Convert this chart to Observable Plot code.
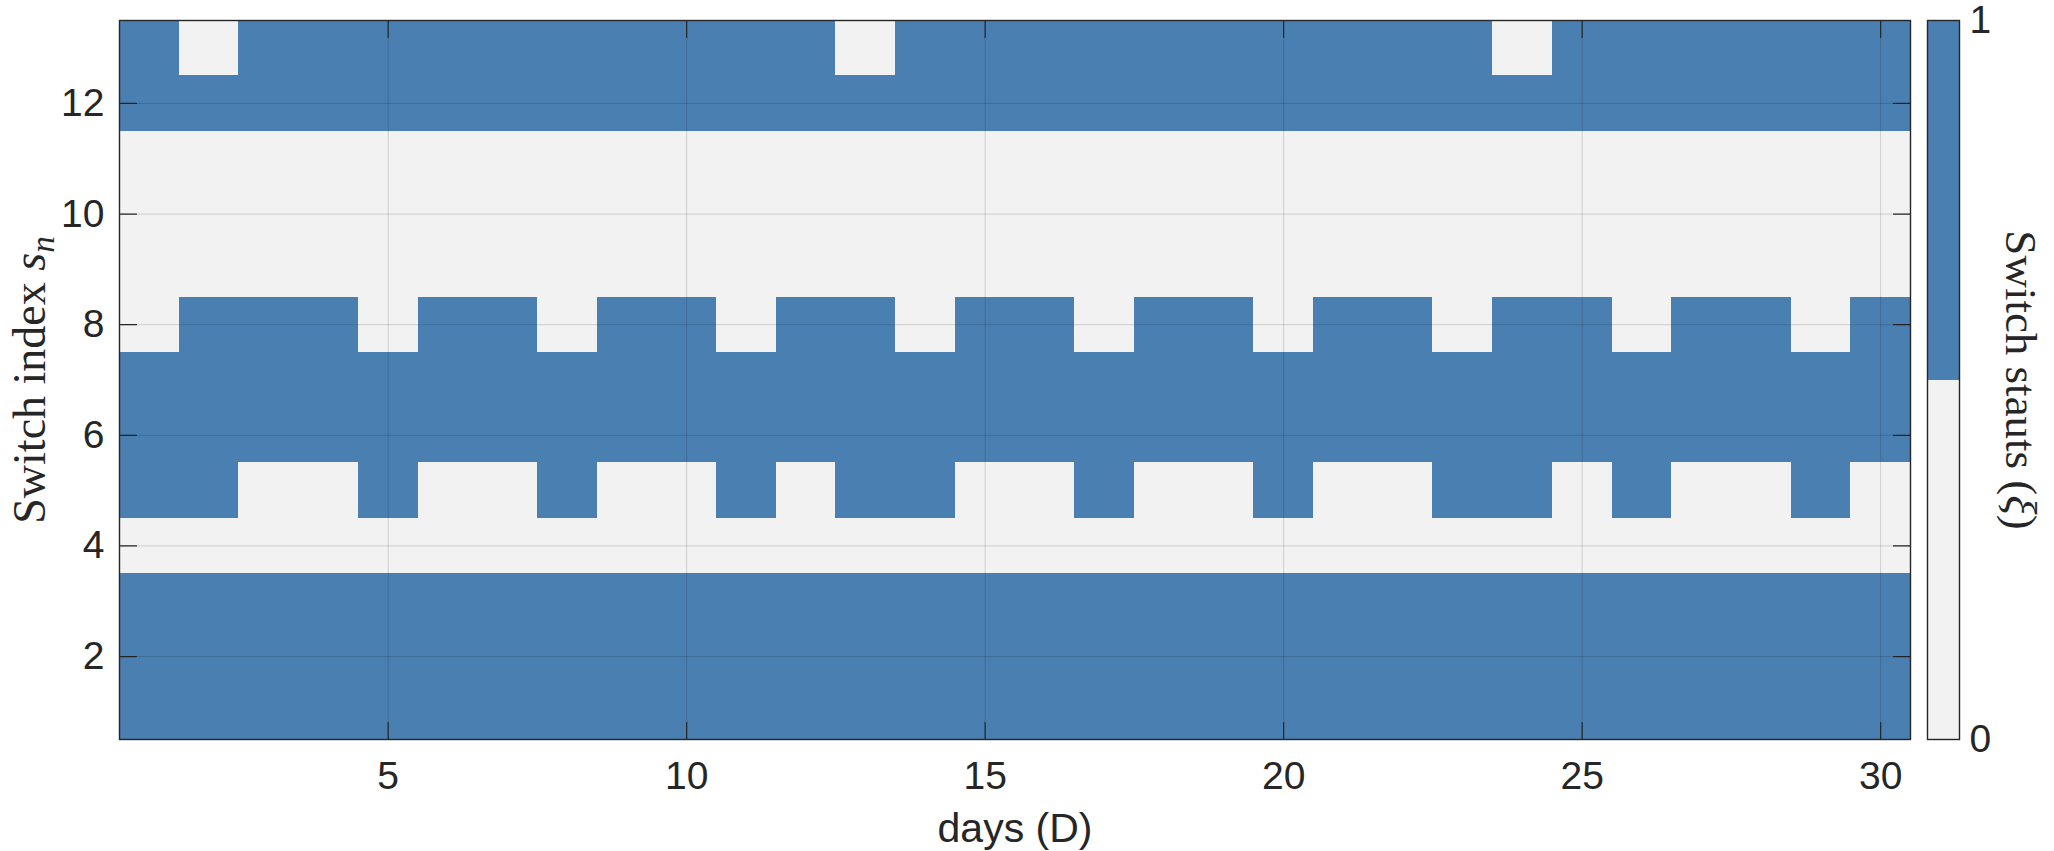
<!DOCTYPE html>
<html>
<head>
<meta charset="utf-8">
<script src="https://cdn.jsdelivr.net/npm/d3@7"></script>
<script src="https://cdn.jsdelivr.net/npm/@observablehq/plot@0.6"></script>
<style>
  html, body { margin: 0; padding: 0; background: #fff; }
  #wrap { position: relative; width: 2054px; height: 851px; }
  #cbar { position: absolute; left: 1900px; top: 0; }
</style>
</head>
<body>
<div id="wrap"><div id="main"></div><div id="cbar"></div></div>
<script>
// ---- data ----
const days = [1,2,3,4,5,6,7,8,9,10,11,12,13,14,15,16,17,18,19,20,21,22,23,24,25,26,27,28,29,30];
const switches = [1,2,3,4,5,6,7,8,9,10,11,12,13];
// status per switch (index 1..13), one value per day
const s1  = [1,1,1,1,1,1,1,1,1,1,1,1,1,1,1,1,1,1,1,1,1,1,1,1,1,1,1,1,1,1];
const s2  = [1,1,1,1,1,1,1,1,1,1,1,1,1,1,1,1,1,1,1,1,1,1,1,1,1,1,1,1,1,1];
const s3  = [1,1,1,1,1,1,1,1,1,1,1,1,1,1,1,1,1,1,1,1,1,1,1,1,1,1,1,1,1,1];
const s4  = [0,0,0,0,0,0,0,0,0,0,0,0,0,0,0,0,0,0,0,0,0,0,0,0,0,0,0,0,0,0];
const s5  = [1,1,0,0,1,0,0,1,0,0,1,0,1,1,0,0,1,0,0,1,0,0,1,1,0,1,0,0,1,0];
const s6  = [1,1,1,1,1,1,1,1,1,1,1,1,1,1,1,1,1,1,1,1,1,1,1,1,1,1,1,1,1,1];
const s7  = [1,1,1,1,1,1,1,1,1,1,1,1,1,1,1,1,1,1,1,1,1,1,1,1,1,1,1,1,1,1];
const s8  = [0,1,1,1,0,1,1,0,1,1,0,1,1,0,1,1,0,1,1,0,1,1,0,1,1,0,1,1,0,1];
const s9  = [0,0,0,0,0,0,0,0,0,0,0,0,0,0,0,0,0,0,0,0,0,0,0,0,0,0,0,0,0,0];
const s10 = [0,0,0,0,0,0,0,0,0,0,0,0,0,0,0,0,0,0,0,0,0,0,0,0,0,0,0,0,0,0];
const s11 = [0,0,0,0,0,0,0,0,0,0,0,0,0,0,0,0,0,0,0,0,0,0,0,0,0,0,0,0,0,0];
const s12 = [1,1,1,1,1,1,1,1,1,1,1,1,1,1,1,1,1,1,1,1,1,1,1,1,1,1,1,1,1,1];
const s13 = [1,0,1,1,1,1,1,1,1,1,1,1,0,1,1,1,1,1,1,1,1,1,1,0,1,1,1,1,1,1];
const xTicks = [5,10,15,20,25,30];
const yTicks = [2,4,6,8,10,12];
const cbTicks = [0,1];
const cbLevels = [0,1];

const rowsByIndex = [s1,s2,s3,s4,s5,s6,s7,s8,s9,s10,s11,s12,s13];
const cells = [];
switches.forEach((sw, i) => days.forEach((d, j) => cells.push({day: d, sw: sw, status: rowsByIndex[i][j]})));

const BLUE = "#4a7fb1";
const WHITE = "#f2f2f2";
const INK = "#262626";
const SANS = "'Liberation Sans', Arial, Helvetica, sans-serif";
const SERIF = "'Liberation Serif', 'Times New Roman', serif";
const TICK = 17;

const line = {draw(ctx, l) { ctx.moveTo(0, 0); ctx.lineTo(0, -l); }};

const main = Plot.plot({
  width: 1910 + 144, height: 851,
  marginLeft: 119, marginRight: 144, marginTop: 20, marginBottom: 112,
  style: {fontFamily: SANS, color: INK, background: "transparent"},
  x: {domain: [0.5, 30.5], label: null},
  y: {domain: [0.5, 13.5], label: null},
  color: {type: "ordinal", domain: cbLevels, range: [WHITE, BLUE]},
  marks: [
    Plot.rect(cells, {x1: d => d.day - 0.5, x2: d => d.day + 0.5, y1: d => d.sw - 0.5, y2: d => d.sw + 0.5, fill: "status", shapeRendering: "crispEdges"}),
    Plot.gridX(xTicks, {stroke: "#000", strokeOpacity: 0.15, strokeWidth: 1}),
    Plot.gridY(yTicks, {stroke: "#000", strokeOpacity: 0.15, strokeWidth: 1}),
    Plot.vector(xTicks, {x: d => d, frameAnchor: "bottom", rotate: 0, length: TICK, anchor: "start", shape: line, stroke: INK, strokeWidth: 1.2}),
    Plot.vector(xTicks, {x: d => d, frameAnchor: "top", rotate: 180, length: TICK, anchor: "start", shape: line, stroke: INK, strokeWidth: 1.2}),
    Plot.vector(yTicks, {y: d => d, frameAnchor: "left", rotate: 90, length: TICK, anchor: "start", shape: line, stroke: INK, strokeWidth: 1.2}),
    Plot.vector(yTicks, {y: d => d, frameAnchor: "right", rotate: 270, length: TICK, anchor: "start", shape: line, stroke: INK, strokeWidth: 1.2}),
    Plot.frame({stroke: INK, strokeWidth: 1.4}),
    Plot.axisX(xTicks, {tickSize: 0, tickPadding: 22, fontSize: 39, fill: INK, tickFormat: d => String(d)}),
    Plot.axisY(yTicks, {tickSize: 0, tickPadding: 15, fontSize: 39, fill: INK, tickFormat: d => String(d)}),
    Plot.text(["days (D)"], {frameAnchor: "bottom", dy: 89, lineAnchor: "middle", fontSize: 41, fill: INK}),
    Plot.text(["Switch index s"], {frameAnchor: "left", dx: -89, rotate: -90, lineAnchor: "middle", textAnchor: "middle", fontSize: 46, fontFamily: SERIF, fill: INK, className: "ylab"})
  ]
});
document.getElementById("main").appendChild(main);

// subscript on y label
const yl = d3.select(main).select(".ylab text");
yl.text(null);
yl.append("tspan").text("Switch index ");
yl.append("tspan").attr("font-style", "italic").text("s");
yl.append("tspan").attr("font-style", "italic").attr("font-size", "0.72em").attr("dy", "0.25em").text("n");

const cbBins = [{lo: 0, hi: 0.5, v: cbLevels[0]}, {lo: 0.5, hi: 1, v: cbLevels[1]}];
const cbar = Plot.plot({
  width: 154, height: 851,
  marginLeft: 27, marginRight: 95, marginTop: 20, marginBottom: 112,
  style: {fontFamily: SANS, color: INK, background: "transparent", overflow: "visible"},
  x: {domain: [0, 1], axis: null},
  y: {domain: [0, 1], label: null},
  color: {type: "ordinal", domain: cbLevels, range: [WHITE, BLUE]},
  marks: [
    Plot.rect(cbBins, {x1: 0, x2: 1, y1: "lo", y2: "hi", fill: "v", shapeRendering: "crispEdges"}),
    Plot.frame({stroke: INK, strokeWidth: 1.4}),
    Plot.axisY(cbTicks, {anchor: "right", tickSize: 0, tickPadding: 10, fontSize: 39, fill: INK, tickFormat: d => String(d)}),
    Plot.text(["Switch stauts (ξ)"], {frameAnchor: "right", dx: 61, rotate: 90, lineAnchor: "middle", textAnchor: "middle", fontSize: 45, fontFamily: SERIF, fill: INK, className: "cblab"})
  ]
});
document.getElementById("cbar").appendChild(cbar);
const cl = d3.select(cbar).select(".cblab text");
cl.text(null);
cl.append("tspan").text("Switch stauts (");
cl.append("tspan").attr("font-style", "italic").text("ξ");
cl.append("tspan").text(")");
</script>
</body>
</html>
